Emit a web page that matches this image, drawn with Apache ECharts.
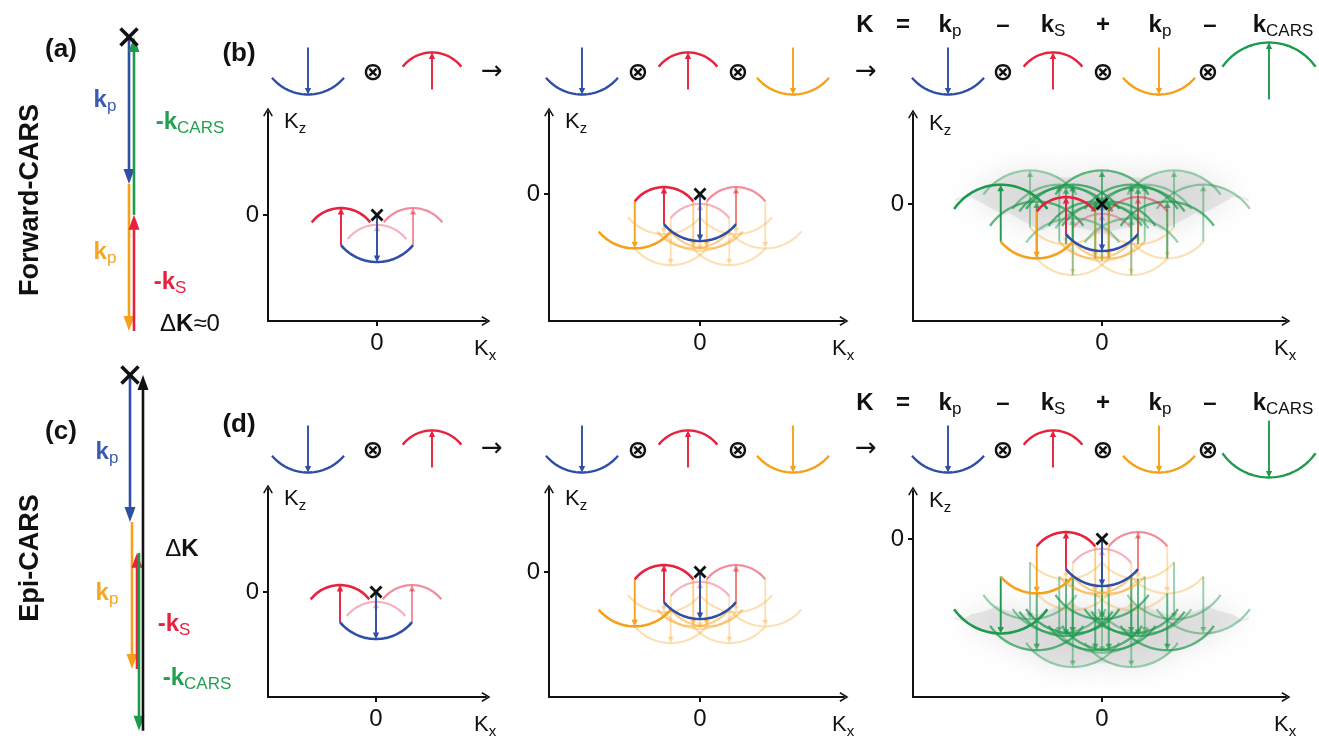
<!DOCTYPE html>
<html><head><meta charset="utf-8"><title>Forward and Epi CARS K-space</title>
<script src="https://cdn.jsdelivr.net/npm/echarts@6.0.0/dist/echarts.min.js"></script>
<style>html,body{margin:0;padding:0;background:#fff;}#chart{width:1319px;height:744px;}</style>
</head><body><div id="chart"></div>
<script>
// ================= DATA =================
const beamNames = ['p', 'S', 'p', 'CARS'];          // k_p, -k_S, k_p, -k_CARS
const beamMagnitude = [1.0, 0.79, 1.0, 1.21];       // |k| relative to |k_p|
const apertureDeg = [50, 52, 50, 55];               // half-angle of each Ewald cap
const forwardDirection = [-1, 1, -1, 1];            // +1 = towards +Kz
const epiDirection = [-1, 1, -1, -1];
const stagesShown = [2, 3, 4];                      // beams convolved in each column
const branchWeight = { L: 1, C: 0.34, R: 0.52 };    // visual weight of each branch
const faintFloor = [1, 0.3, 0.32, 0.45];
const forwardChainBeams = [0, 2, 1, 3];
const forwardChainLanes = [2.2, 2.2, 3.2, 3.2];
const forwardChainDirs = [-1, -1, 1, 1];
const epiChainBeams = [0, 2, 1, 3];
const epiChainLanes = [2.4, 2.8, 3.8, 4.2];
const epiChainDirs = [-1, -1, 1, -1];
const deltaKLane = 5.0;
const tickValues = [0];
const tickLabels = ['0'];

// ================= STYLE / LAYOUT =================
const FONT = "'Liberation Sans', Arial, Helvetica, sans-serif";
const SYMFONT = "'DejaVu Sans', sans-serif";
const beamColors = ['#2f4ea5', '#e8213d', '#f5a11c', '#1d9a4c', '#111111'];
const labelColors = ['#3a5bb3', '#e8213d', '#f5a623', '#22a052'];
const U = 47;        // px per |k_p| in K-space panels
const UA = 147;      // px per |k_p| in vector panels
const ARROW_HALF = 4;
const panelLayout = [
  { col: 0, epi: false, left: 268, axisY: 321, tipTop: 108, tipRight: 490, zeroX: 377, zeroY: 215 },
  { col: 1, epi: false, left: 549, axisY: 321, tipTop: 108, tipRight: 848, zeroX: 700, zeroY: 194 },
  { col: 2, epi: false, left: 913, axisY: 321, tipTop: 110, tipRight: 1290, zeroX: 1102, zeroY: 204 },
  { col: 0, epi: true, left: 268, axisY: 697, tipTop: 485, tipRight: 490, zeroX: 376, zeroY: 592 },
  { col: 1, epi: true, left: 549, axisY: 697, tipTop: 485, tipRight: 848, zeroX: 700, zeroY: 572 },
  { col: 2, epi: true, left: 913, axisY: 697, tipTop: 487, tipRight: 1290, zeroX: 1102, zeroY: 539 }
];
const iconRowMid = [71, 449];
const iconX = [[308, 432], [582, 688, 793], [948, 1053, 1159, 1269]];
const vectorLayout = [
  { left: 118, width: 40, laneMax: 8, zeroY: 37, zMin: -2.2, zMax: 0.15 },
  { left: 118, width: 40, laneMax: 8, zeroY: 375, zMin: -2.6, zMax: 0.15 }
];
const ARROW_PATH = 'path://M0,10 L6,0 L12,10 L10.4,11 L6,3.4 L1.6,11 Z';

// ================= GEOMETRY =================
function buildArcs(dirs, n) {
  const out = [];
  let stage = [{ c: [0, 0], path: '' }];
  for (let s = 0; s < n; s++) {
    const r = beamMagnitude[s], d = dirs[s], a = apertureDeg[s] * Math.PI / 180;
    stage.forEach(function (arc) {
      let w = 1;
      for (const ch of arc.path) w *= branchWeight[ch];
      const bold = /^L*$/.test(arc.path);
      out.push({ c: arc.c, beam: s, dir: d, alpha: bold ? 1 : Math.max(faintFloor[s], w), bold: bold });
    });
    if (s < n - 1) {
      const next = [];
      stage.forEach(function (arc) {
        const cx = arc.c[0], cz = arc.c[1];
        next.push({ c: [cx - r * Math.sin(a), cz + d * r * Math.cos(a)], path: arc.path + 'L' });
        next.push({ c: [cx, cz + d * r], path: arc.path + 'C' });
        next.push({ c: [cx + r * Math.sin(a), cz + d * r * Math.cos(a)], path: arc.path + 'R' });
      });
      stage = next;
    }
  }
  out.sort(function (p, q) { return (p.alpha - q.alpha) || (q.beam - p.beam); });
  return out;
}

function envelope(arcs, beam) {
  const step = 0.08, bins = {};
  const r = beamMagnitude[beam], al = apertureDeg[beam] * Math.PI / 180;
  arcs.filter(function (a) { return a.beam === beam; }).forEach(function (a) {
    for (let i = 0; i <= 40; i++) {
      const t = -al + 2 * al * i / 40;
      const x = a.c[0] + r * Math.sin(t), z = a.c[1] + a.dir * r * Math.cos(t);
      const k = Math.round(x / step);
      if (!bins[k]) bins[k] = [z, z];
      else { bins[k][0] = Math.max(bins[k][0], z); bins[k][1] = Math.min(bins[k][1], z); }
    }
  });
  const keys = Object.keys(bins).map(Number).sort(function (p, q) { return p - q; });
  function smooth(arr) {
    return arr.map(function (v, i) {
      let s = 0, c = 0;
      for (let j = i - 4; j <= i + 4; j++) if (j >= 0 && j < arr.length) { s += arr[j]; c++; }
      return s / c;
    });
  }
  const tops = smooth(keys.map(function (k) { return bins[k][0]; }));
  const bots = smooth(keys.map(function (k) { return bins[k][1]; }));
  const top = keys.map(function (k, i) { return [k * step, tops[i]]; });
  const bottom = keys.map(function (k, i) { return [k * step, bots[i]]; }).reverse();
  return top.concat(bottom);
}

function drawCap(api, cx, cz, beam, dir, alpha, bold, lwArc) {
  const r = beamMagnitude[beam], a = apertureDeg[beam] * Math.PI / 180;
  const pts = [];
  for (let i = 0; i <= 40; i++) {
    const t = -a + 2 * a * i / 40;
    pts.push(api.coord([cx + r * Math.sin(t), cz + dir * r * Math.cos(t)]));
  }
  const tail = api.coord([cx, cz]);
  const tip = api.coord([cx, cz + dir * r]);
  const color = beamColors[beam];
  const sgn = tip[1] > tail[1] ? 1 : -1;
  const ah = 6.5, aw = 3.2;
  return {
    type: 'group', silent: true, children: [
      { type: 'polyline', shape: { points: pts }, style: { stroke: color, lineWidth: lwArc || (bold ? 2.6 : 2.2), fill: null, opacity: alpha } },
      { type: 'line', shape: { x1: tail[0], y1: tail[1], x2: tip[0], y2: tip[1] - sgn * ah * 0.6 }, style: { stroke: color, lineWidth: 1.9, opacity: alpha } },
      { type: 'polygon', shape: { points: [[tip[0], tip[1]], [tip[0] - aw, tip[1] - sgn * ah], [tip[0] + aw, tip[1] - sgn * ah]] }, style: { fill: color, opacity: alpha } }
    ]
  };
}

function renderArc(params, api) {
  return drawCap(api, api.value(0), api.value(1), api.value(2), api.value(3), api.value(4), api.value(5) === 1);
}
function renderIcon(params, api) {
  return drawCap(api, api.value(0), api.value(1), api.value(2), api.value(3), 1, false, 2.4);
}

function crossRender(size, lw) {
  return function (params, api) {
    const p = api.coord([api.value(0), api.value(1)]), h = size / 2;
    return {
      type: 'group', silent: true, children: [
        { type: 'line', shape: { x1: p[0] - h, y1: p[1] - h, x2: p[0] + h, y2: p[1] + h }, style: { stroke: '#111', lineWidth: lw } },
        { type: 'line', shape: { x1: p[0] - h, y1: p[1] + h, x2: p[0] + h, y2: p[1] - h }, style: { stroke: '#111', lineWidth: lw } }
      ]
    };
  };
}

function vectorRender(params, api) {
  const lane = api.value(0), z0 = api.value(1), z1 = api.value(2), beam = api.value(3);
  const p0 = api.coord([lane, z0]), p1 = api.coord([lane, z1]);
  const col = beamColors[beam];
  const sgn = p1[1] > p0[1] ? 1 : -1;
  const ah = 15, aw = 5.5;
  return {
    type: 'group', silent: true, children: [
      { type: 'line', shape: { x1: p0[0], y1: p0[1], x2: p1[0], y2: p1[1] - sgn * ah * 0.7 }, style: { stroke: col, lineWidth: 2.6 } },
      { type: 'polygon', shape: { points: [[p1[0], p1[1]], [p1[0] - aw, p1[1] - sgn * ah], [p1[0] + aw, p1[1] - sgn * ah]] }, style: { fill: col } }
    ]
  };
}

// ================= OPTION =================
const grids = [], xAxes = [], yAxes = [], series = [];
function nameRich() {
  return {
    m: { fontSize: 22, color: '#111', fontFamily: FONT },
    s: { fontSize: 15, color: '#111', fontFamily: FONT, padding: [13, 0, 0, 0] }
  };
}
const labelFormatter = function (v) { const i = tickValues.indexOf(v); return i >= 0 ? tickLabels[i] : ''; };

panelLayout.forEach(function (L, i) {
  const top = L.tipTop + ARROW_HALF, right = L.tipRight - ARROW_HALF;
  grids.push({ left: L.left, top: top, width: right - L.left, height: L.axisY - top, containLabel: false, outerBoundsMode: 'none' });
  const common = {
    gridIndex: i, type: 'value', splitLine: { show: false },
    axisLine: { show: true, onZero: false, symbol: ['none', ARROW_PATH], symbolSize: [12, 9], lineStyle: { color: '#111', width: 2 } },
    axisTick: { show: true, customValues: tickValues, length: 5, lineStyle: { color: '#111', width: 2 } },
    nameLocation: 'end'
  };
  xAxes.push(Object.assign({}, common, {
    min: (L.left - L.zeroX) / U, max: (right - L.zeroX) / U,
    axisLabel: { show: true, customValues: tickValues, formatter: labelFormatter, fontSize: 24, color: '#111', margin: 10, fontFamily: FONT },
    name: '{m|K}{s|x}', nameGap: -12,
    nameTextStyle: { align: 'left', verticalAlign: 'top', padding: [14, 0, 0, 0], rich: nameRich() }
  }));
  yAxes.push(Object.assign({}, common, {
    min: (L.zeroY - L.axisY) / U, max: (L.zeroY - top) / U,
    axisLabel: { show: true, customValues: tickValues, formatter: labelFormatter, fontSize: 24, color: '#111', margin: 9, fontFamily: FONT },
    name: '{m|K}{s|z}', nameGap: 4,
    nameTextStyle: { align: 'left', verticalAlign: 'top', padding: [0, 0, 0, 16], rich: nameRich() }
  }));

  const dirs = L.epi ? epiDirection : forwardDirection;
  const n = stagesShown[L.col];
  const arcs = buildArcs(dirs, n);
  if (n === 4) {
    const env = envelope(arcs, 3);
    series.push({
      type: 'custom', name: 'envelope', coordinateSystem: 'cartesian2d', xAxisIndex: i, yAxisIndex: i, clip: false, silent: true,
      data: [[0, 0]],
      renderItem: function (params, api) {
        return {
          type: 'polygon', silent: true, shape: { points: env.map(function (p) { return api.coord(p); }), smooth: 0.35 },
          style: { fill: 'rgba(190,190,190,0.34)', shadowBlur: 30, shadowColor: 'rgba(170,170,170,0.85)' }
        };
      }
    });
  }
  series.push({
    type: 'custom', name: 'caps', coordinateSystem: 'cartesian2d', xAxisIndex: i, yAxisIndex: i, clip: false, silent: true,
    data: arcs.map(function (a) { return [a.c[0], a.c[1], a.beam, a.dir, a.alpha, a.bold ? 1 : 0]; }),
    renderItem: renderArc
  });
  series.push({
    type: 'custom', name: 'origin', coordinateSystem: 'cartesian2d', xAxisIndex: i, yAxisIndex: i, clip: false, silent: true,
    data: [[0, 0]], renderItem: crossRender(11, 2.8)
  });
  // icons of the convolved beams above each panel
  const rowMidK = (L.zeroY - iconRowMid[L.epi ? 1 : 0]) / U;
  const icons = [];
  for (let s = 0; s < n; s++) {
    const kx = (iconX[L.col][s] - L.zeroX) / U;
    icons.push([kx, rowMidK - dirs[s] * beamMagnitude[s] / 2, s, dirs[s]]);
  }
  series.push({
    type: 'custom', name: 'icons', coordinateSystem: 'cartesian2d', xAxisIndex: i, yAxisIndex: i, clip: false, silent: true,
    data: icons, renderItem: renderIcon
  });
});

// vector diagrams (a) and (c)
function chainRows(beams, lanes, dirs, withDelta) {
  const rows = [];
  let z = 0;
  beams.forEach(function (b, j) {
    const z1 = z + dirs[j] * beamMagnitude[b];
    rows.push([lanes[j], z, z1, b]);
    z = z1;
  });
  if (withDelta) rows.push([deltaKLane, z, 0, 4]);
  return rows;
}
const vectorData = [
  chainRows(forwardChainBeams, forwardChainLanes, forwardChainDirs, false),
  chainRows(epiChainBeams, epiChainLanes, epiChainDirs, true)
];
vectorLayout.forEach(function (V, j) {
  const gi = grids.length;
  grids.push({ left: V.left, top: V.zeroY - V.zMax * UA, width: V.width, height: (V.zMax - V.zMin) * UA, containLabel: false, outerBoundsMode: 'none' });
  xAxes.push({ gridIndex: gi, type: 'value', min: 0, max: V.laneMax, show: false });
  yAxes.push({ gridIndex: gi, type: 'value', min: V.zMin, max: V.zMax, show: false });
  series.push({
    type: 'custom', name: j ? 'epi vectors' : 'forward vectors', coordinateSystem: 'cartesian2d', xAxisIndex: gi, yAxisIndex: gi, clip: false, silent: true,
    data: vectorData[j], renderItem: vectorRender
  });
  series.push({
    type: 'custom', name: 'vector origin', coordinateSystem: 'cartesian2d', xAxisIndex: gi, yAxisIndex: gi, clip: false, silent: true,
    data: [[vectorData[j][0][0], 0]], renderItem: crossRender(17, 3.6)
  });
});

// ================= TEXT =================
const graphic = [];
function addText(x, y, spec, rotation) {
  graphic.push({
    type: 'text', x: x, y: y, rotation: rotation || 0, silent: true, z: 100,
    style: Object.assign({ legacy: false, align: 'center', verticalAlign: 'middle' }, spec)
  });
}
function plain(text, size, weight, color, family) {
  return { text: text, fontSize: size, fontWeight: weight || 'normal', fontFamily: family || FONT, fill: color || '#111' };
}
function kSub(main, sub, color, size, subSize) {
  return {
    text: '{m|' + main + '}{s|' + sub + '}',
    rich: {
      m: { fontSize: size, fontWeight: 'bold', fontFamily: FONT, fill: color },
      s: { fontSize: subSize, fontWeight: 'normal', fontFamily: FONT, fill: color, padding: [Math.round(size * 0.55), 0, 0, 0] }
    }
  };
}
[['(a)', 61, 50], ['(b)', 239, 54], ['(c)', 61, 432], ['(d)', 239, 425]].forEach(function (t) {
  addText(t[1], t[2], plain(t[0], 26, 'bold'));
});
addText(31, 200, plain('Forward-CARS', 27, 'bold'), Math.PI / 2);
addText(31, 558, plain('Epi-CARS', 27, 'bold'), Math.PI / 2);

// (a) labels
addText(105, 100, kSub('k', 'p', labelColors[0], 24, 17));
addText(190, 122, kSub('-k', 'CARS', labelColors[3], 24, 17));
addText(105, 252, kSub('k', 'p', labelColors[2], 24, 17));
addText(170, 282, kSub('-k', 'S', labelColors[1], 24, 17));
addText(190, 324, {
  text: '{n|Δ}{k|K}{n|≈0}',
  rich: { n: { fontSize: 24, fontFamily: FONT, fill: '#111' }, k: { fontSize: 24, fontWeight: 'bold', fontFamily: FONT, fill: '#111' } }
});
// (c) labels
addText(107, 452, kSub('k', 'p', labelColors[0], 24, 17));
addText(182, 549, {
  text: '{n|Δ}{k|K}',
  rich: { n: { fontSize: 24, fontFamily: FONT, fill: '#111' }, k: { fontSize: 24, fontWeight: 'bold', fontFamily: FONT, fill: '#111' } }
});
addText(107, 593, kSub('k', 'p', labelColors[2], 24, 17));
addText(174, 624, kSub('-k', 'S', labelColors[1], 24, 17));
addText(197, 678, kSub('-k', 'CARS', labelColors[3], 24, 17));

// formula rows
[25, 403].forEach(function (y) {
  addText(865, y, plain('K', 24, 'bold'));
  addText(903, y, plain('=', 24, 'bold'));
  addText(950, y, kSub('k', beamNames[0], '#111', 24, 17));
  addText(1003, y, plain('–', 24, 'bold'));
  addText(1053, y, kSub('k', beamNames[1], '#111', 24, 17));
  addText(1103, y, plain('+', 24, 'bold'));
  addText(1160, y, kSub('k', beamNames[2], '#111', 24, 17));
  addText(1210, y, plain('–', 24, 'bold'));
  addText(1283, y, kSub('k', beamNames[3], '#111', 24, 17));
});
// convolution operators and arrows
[[73, 72], [451, 449]].forEach(function (yy) {
  [373, 638, 738, 1003, 1103, 1208].forEach(function (x) { addText(x, yy[0], plain('⊗', 25, 'bold', '#111', SYMFONT)); });
  [492, 866].forEach(function (x) { addText(x, yy[1], plain('→', 26, 'normal', '#111', SYMFONT)); });
});

const chart = echarts.init(document.getElementById('chart'), null, { renderer: 'canvas' });
chart.setOption({
  backgroundColor: '#ffffff',
  animation: false,
  textStyle: { fontFamily: FONT },
  grid: grids, xAxis: xAxes, yAxis: yAxes, series: series, graphic: graphic
});
</script></body></html>
